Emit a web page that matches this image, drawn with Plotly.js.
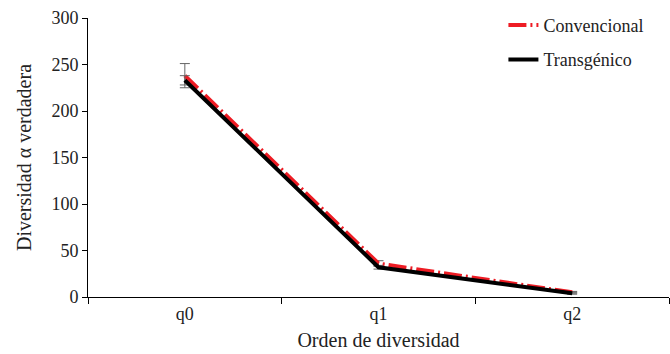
<!DOCTYPE html>
<html>
<head>
<meta charset="utf-8">
<script src="https://cdn.plot.ly/plotly-3.0.1.min.js"></script>
<style>html,body{margin:0;padding:0;background:#fff;}#chart{width:670px;height:354px;}</style>
</head>
<body>
<div id="chart"></div>
<script>
var categories = ["q0", "q1", "q2"];
var convencional = [238, 36, 5];
var convencionalErr = [13, 3, 1];
var transgenico = [233, 32, 4];
var transgenicoErr = [5, 2, 1];
var seriesNames = ["Convencional", "Transgénico"];
var yTicks = [0, 50, 100, 150, 200, 250, 300];

var traces = [
  {
    x: categories, y: convencional, name: seriesNames[0], type: "scatter", mode: "lines",
    legendgroup: "a",
    line: {color: "#ee1c24", width: 4, dash: "18px,4px,2px,4px"},
    error_y: {type: "data", array: convencionalErr, visible: true, color: "#666", thickness: 1, width: 5}
  },
  {
    x: categories, y: transgenico, name: seriesNames[1], type: "scatter", mode: "lines",
    legendgroup: "b",
    line: {color: "#000", width: 4},
    error_y: {type: "data", array: transgenicoErr, visible: true, color: "#666", thickness: 1, width: 5}
  }
];

var fam = "'Liberation Serif', 'DejaVu Serif', serif";
var font = {family: fam, size: 18, color: "#222"};
var titleFont = {family: fam, size: 20, color: "#222"};

var layout = {
  width: 670, height: 354,
  margin: {l: 88, r: 1, t: 18, b: 57},
  paper_bgcolor: "#fff", plot_bgcolor: "#fff",
  font: font,
  showlegend: true,
  legend: {
    x: 0.715, y: 1.04, xanchor: "left", yanchor: "top",
    bgcolor: "rgba(0,0,0,0)", font: font,
    traceorder: "grouped", tracegroupgap: 8
  },
  xaxis: {
    type: "category", tickson: "boundaries", range: [-0.5, 2.5],
    showline: true, linecolor: "#000", linewidth: 1,
    ticks: "outside", ticklen: 6, tickcolor: "#000",
    showgrid: false, zeroline: false,
    title: {text: "Orden de diversidad", font: titleFont, standoff: 10},
    tickfont: font
  },
  yaxis: {
    range: [0, 300], tickvals: yTicks,
    showline: true, linecolor: "#000", linewidth: 1,
    ticks: "outside", ticklen: 5, tickcolor: "#000",
    showgrid: false, zeroline: false,
    title: {text: "Diversidad α verdadera", font: titleFont, standoff: 14},
    tickfont: font
  }
};

Plotly.newPlot("chart", traces, layout, {displayModeBar: false, staticPlot: true});
</script>
</body>
</html>
